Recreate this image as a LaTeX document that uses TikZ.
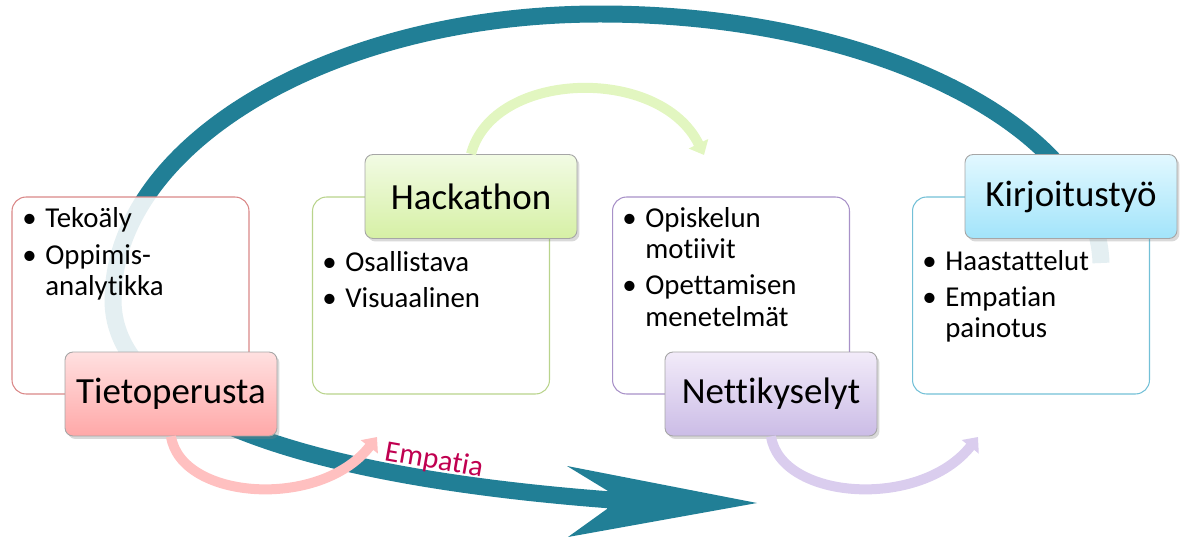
\documentclass[tikz,border=0pt]{standalone}
\usepackage{fontspec}
\setmainfont{Carlito}[Ligatures={NoCommon,NoContextual}]
\usetikzlibrary{arrows.meta,shadows}

\definecolor{bandteal}{RGB}{33,127,150}
\definecolor{empcol}{RGB}{192,0,80}
\definecolor{redline}{RGB}{218,135,135}
\definecolor{greenline}{RGB}{185,212,140}
\definecolor{violetline}{RGB}{168,145,200}
\definecolor{blueline}{RGB}{115,192,215}
\definecolor{pinktop}{RGB}{255,224,224}
\definecolor{pinkbot}{RGB}{255,168,168}
\definecolor{greentop}{RGB}{242,251,228}
\definecolor{greenbot}{RGB}{214,240,165}
\definecolor{violettop}{RGB}{242,235,249}
\definecolor{violetbot}{RGB}{203,188,230}
\definecolor{bluetop}{RGB}{226,248,255}
\definecolor{bluebot}{RGB}{162,228,250}
\definecolor{pinkarr}{RGB}{255,192,192}
\definecolor{greenarr}{RGB}{226,246,192}
\definecolor{violetarr}{RGB}{218,205,238}

\newcommand{\bul}{\makebox[0.46cm][l]{\textbullet}}
\newcommand{\ind}{\hspace{0.46cm}}

\begin{document}
\begin{tikzpicture}[x=0.02cm,y=-0.02cm,
  box/.style={draw=#1,line width=0.6pt,rounded corners=0.28cm,fill=white,
    fill opacity=0.88,minimum width=4.74cm,minimum height=3.94cm,inner sep=0},
  title/.style={draw=black!35,line width=0.5pt,rounded corners=0.16cm,
    minimum width=4.24cm,minimum height=1.68cm,font=\fontsize{21}{24}\selectfont,
    drop shadow={shadow xshift=0.05cm,shadow yshift=-0.06cm,opacity=0.3}},
  items/.style={anchor=base west,inner sep=0,font=\fontsize{16.4}{18.2}\selectfont},
  smallarrow/.style={line width=0.2cm,draw=#1,-{Triangle[length=0.25cm,width=0.42cm]}}]
   \useasboundingbox (0,0) rectangle (1184,537);

   % the big loop
   \draw[line width=0.34cm,bandteal] (1101,263) .. controls (1097,128) and (876,14) .. (600,14)
   .. controls (331,14) and (113,144) .. (113,300)
   .. controls (113,420) and (330,480) .. (625,501);
   \fill[bandteal] (608,491) -- (567,466) -- (757,503) -- (568,537) -- (607,509) -- cycle;

   % boxes
   \node[box=redline] (tietoB) at (130.5,295.5) {};
   \node[box=greenline] (hackB) at (431,295.5) {};
   \node[box=violetline] (nettiB) at (731,295.5) {};
   \node[box=blueline] (kirjB) at (1031,295.5) {};

   \node[items] (tietoL) at (22,228) {\begin{tabular}[t]{@{}l@{}}
     \bul Tekoäly\\[2.3pt] \bul Oppimis-\\ \ind analytikka\end{tabular}};
   \node[items] (hackL) at (322,271) {\begin{tabular}[t]{@{}l@{}}
     \bul Osallistava\\[2.3pt] \bul Visuaalinen\end{tabular}};
   \node[items] (nettiL) at (622,227) {\begin{tabular}[t]{@{}l@{}}
     \bul Opiskelun\\ \ind motiivit\\[2.3pt] \bul Opettamisen\\ \ind menetelmät\end{tabular}};
   \node[items] (kirjL) at (922,270) {\begin{tabular}[t]{@{}l@{}}
     \bul Haastattelut\\[2.3pt] \bul Empatian\\ \ind painotus\end{tabular}};

   % titles
   \node[title,top color=pinktop,bottom color=pinkbot] (tieto) at (171,394) {Tietoperusta};
   \node[title,top color=greentop,bottom color=greenbot] (hack) at (471,196.5) {Hackathon};
   \node[title,top color=violettop,bottom color=violetbot] (netti) at (771,394) {Nettikyselyt};
   \node[title,top color=bluetop,bottom color=bluebot] (kirj) at (1071,196.5) {Kirjoitustyö};

   % small arrows
   \coordinate (p1) at (377,437);
   \coordinate (p2) at (704,155);
   \coordinate (p3) at (978,437);
   \draw[smallarrow=pinkarr] (tieto.south) .. controls (181,500) and (320,510) .. (p1);
   \draw[smallarrow=greenarr] (hack.north) .. controls (493,70) and (660,65) .. (p2);
   \draw[smallarrow=violetarr] (netti.south) .. controls (781,500) and (920,510) .. (p3);

   \node[text=empcol,rotate=-10,font=\fontsize{17}{20}\selectfont] (emp) at (434,461) {Empatia};
\end{tikzpicture}
\end{document}
